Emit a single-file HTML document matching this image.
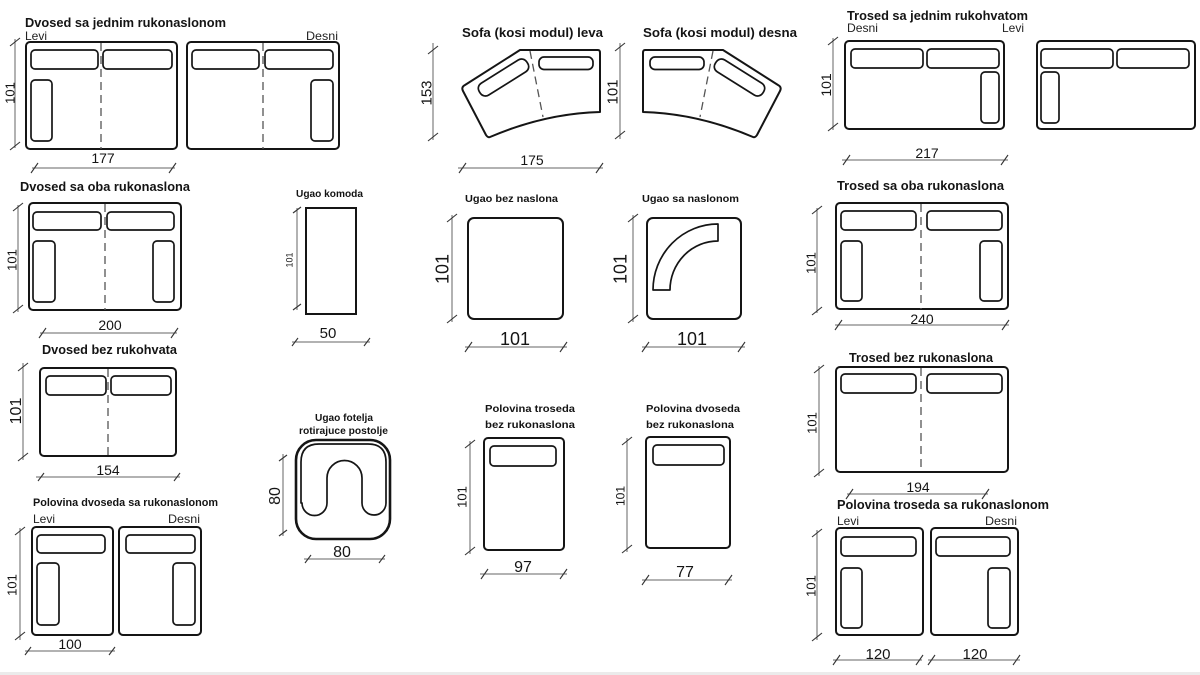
<!DOCTYPE html>
<html><head><meta charset="utf-8"><style>
html,body{margin:0;padding:0;background:#fff;}
svg{display:block;}
.t{font-family:"Liberation Sans",sans-serif;font-weight:bold;fill:#141414;}
.l{font-family:"Liberation Sans",sans-serif;fill:#222;font-size:12px;}
.n{font-family:"Liberation Sans",sans-serif;fill:#151515;text-anchor:middle;}
.b{fill:none;stroke:#151515;stroke-width:2;}
.c{fill:none;stroke:#151515;stroke-width:1.7;}
.d{stroke:#555;stroke-width:1.3;stroke-dasharray:8 5;fill:none;}
.dl{stroke:#666;stroke-width:1;fill:none;}
.tk{stroke:#333;stroke-width:1.1;}
</style></head><body>
<svg width="1200" height="675" viewBox="0 0 1200 675" xmlns="http://www.w3.org/2000/svg">
<rect x="0" y="0" width="1200" height="675" fill="#fff"/>
<rect x="0" y="672" width="1200" height="3" fill="#ebebeb"/>

<!-- 1 Dvosed sa jednim rukonaslonom -->
<text class="t" x="25" y="27" font-size="13" textLength="201" lengthAdjust="spacingAndGlyphs">Dvosed sa jednim rukonaslonom</text>
<text class="l" x="25" y="40" textLength="22" lengthAdjust="spacingAndGlyphs">Levi</text>
<text class="l" x="306" y="40" textLength="32" lengthAdjust="spacingAndGlyphs">Desni</text>
<rect class="b" x="26" y="42" width="151" height="107" rx="4"/>
<rect class="c" x="31" y="50" width="67" height="19" rx="4"/>
<rect class="c" x="103" y="50" width="69" height="19" rx="4"/>
<rect class="c" x="31" y="80" width="21" height="61" rx="4"/>
<line class="d" x1="101" y1="43" x2="101" y2="149"/>
<rect class="b" x="187" y="42" width="152" height="107" rx="4"/>
<rect class="c" x="192" y="50" width="67" height="19" rx="4"/>
<rect class="c" x="265" y="50" width="68" height="19" rx="4"/>
<rect class="c" x="311" y="80" width="22" height="61" rx="4"/>
<line class="d" x1="263" y1="43" x2="263" y2="149"/>
<line class="dl" x1="15" y1="39" x2="15" y2="148"/>
<line class="tk" x1="10" y1="46" x2="20" y2="38"/><line class="tk" x1="10" y1="150" x2="20" y2="142"/>
<text class="n" font-size="13" transform="translate(10,93) rotate(-90)" dy="0.36em">101</text>
<line class="dl" x1="32" y1="168" x2="175" y2="168"/>
<line class="tk" x1="31" y1="173" x2="38" y2="163"/><line class="tk" x1="169" y1="173" x2="176" y2="163"/>
<text class="n" x="103" y="163" font-size="14">177</text>

<!-- Sofa kosi modul -->
<text class="t" x="462" y="37" font-size="13" textLength="141" lengthAdjust="spacingAndGlyphs">Sofa (kosi modul) leva</text>
<text class="t" x="643" y="37" font-size="13" textLength="154" lengthAdjust="spacingAndGlyphs">Sofa (kosi modul) desna</text>
<g id="sofaL">
<path class="b" stroke-linejoin="round" d="M520,50 L598,50 Q600,50 600,53 L600,112 Q545,113.5 490,137 Q488,138 486,135 L463,91 Q461,87 465,85 L520,50 Z"/>
<line class="d" x1="530" y1="51" x2="543" y2="117"/>
<rect class="c" x="-28" y="-7" width="56" height="14" rx="6" transform="translate(503.5,77.5) rotate(-32)"/>
<rect class="c" x="539" y="57" width="54" height="12.5" rx="5"/>
</g>
<g transform="translate(1243,0) scale(-1,1)">
<path class="b" stroke-linejoin="round" d="M520,50 L598,50 Q600,50 600,53 L600,112 Q545,113.5 490,137 Q488,138 486,135 L463,91 Q461,87 465,85 L520,50 Z"/>
<line class="d" x1="530" y1="51" x2="543" y2="117"/>
<rect class="c" x="-28" y="-7" width="56" height="14" rx="6" transform="translate(503.5,77.5) rotate(-32)"/>
<rect class="c" x="539" y="57" width="54" height="12.5" rx="5"/>
</g>
<line class="dl" x1="433" y1="43" x2="433" y2="140"/>
<line class="tk" x1="428" y1="54" x2="438" y2="46"/><line class="tk" x1="428" y1="141" x2="438" y2="133"/>
<text class="n" font-size="15" transform="translate(426,93) rotate(-90)" dy="0.36em">153</text>
<line class="dl" x1="620" y1="43" x2="620" y2="139"/>
<line class="tk" x1="615" y1="51" x2="625" y2="43"/><line class="tk" x1="615" y1="139" x2="625" y2="131"/>
<text class="n" font-size="15" transform="translate(612,92) rotate(-90)" dy="0.36em">101</text>
<line class="dl" x1="458" y1="168" x2="603" y2="168"/>
<line class="tk" x1="459" y1="173" x2="466" y2="163"/><line class="tk" x1="596" y1="173" x2="603" y2="163"/>
<text class="n" x="532" y="165" font-size="14">175</text>

<!-- Trosed sa jednim rukohvatom -->
<text class="t" x="847" y="20" font-size="13" textLength="181" lengthAdjust="spacingAndGlyphs">Trosed sa jednim rukohvatom</text>
<text class="l" x="847" y="32" textLength="31" lengthAdjust="spacingAndGlyphs">Desni</text>
<text class="l" x="1002" y="32" textLength="22" lengthAdjust="spacingAndGlyphs">Levi</text>
<rect class="b" x="845" y="41" width="159" height="88" rx="4"/>
<rect class="c" x="851" y="49" width="72" height="19" rx="4"/>
<rect class="c" x="927" y="49" width="72" height="19" rx="4"/>
<rect class="c" x="981" y="72" width="18" height="51" rx="4"/>
<rect class="b" x="1037" y="41" width="158" height="88" rx="4"/>
<rect class="c" x="1041" y="49" width="72" height="19" rx="4"/>
<rect class="c" x="1117" y="49" width="72" height="19" rx="4"/>
<rect class="c" x="1041" y="72" width="18" height="51" rx="4"/>
<line class="dl" x1="833" y1="38" x2="833" y2="130"/>
<line class="tk" x1="828" y1="45" x2="838" y2="37"/><line class="tk" x1="828" y1="131" x2="838" y2="123"/>
<text class="n" font-size="14" transform="translate(826,85) rotate(-90)" dy="0.36em">101</text>
<line class="dl" x1="842" y1="160" x2="1008" y2="160"/>
<line class="tk" x1="843" y1="165" x2="850" y2="155"/><line class="tk" x1="1001" y1="165" x2="1008" y2="155"/>
<text class="n" x="927" y="158" font-size="14">217</text>

<!-- Dvosed sa oba rukonaslona -->
<text class="t" x="20" y="191" font-size="13" textLength="170" lengthAdjust="spacingAndGlyphs">Dvosed sa oba rukonaslona</text>
<rect class="b" x="29" y="203" width="152" height="107" rx="4"/>
<rect class="c" x="33" y="212" width="68" height="18" rx="4"/>
<rect class="c" x="107" y="212" width="67" height="18" rx="4"/>
<rect class="c" x="33" y="241" width="22" height="61" rx="4"/>
<rect class="c" x="153" y="241" width="21" height="61" rx="4"/>
<line class="d" x1="105" y1="204" x2="105" y2="310"/>
<line class="dl" x1="18" y1="205" x2="18" y2="312"/>
<line class="tk" x1="13" y1="211" x2="23" y2="203"/><line class="tk" x1="13" y1="313" x2="23" y2="305"/>
<text class="n" font-size="13" transform="translate(12,260) rotate(-90)" dy="0.36em">101</text>
<line class="dl" x1="40" y1="333" x2="177" y2="333"/>
<line class="tk" x1="39" y1="338" x2="46" y2="328"/><line class="tk" x1="171" y1="338" x2="178" y2="328"/>
<text class="n" x="110" y="330" font-size="14">200</text>

<!-- Ugao komoda -->
<text class="t" x="296" y="197" font-size="10" textLength="67" lengthAdjust="spacingAndGlyphs">Ugao komoda</text>
<rect class="b" x="306" y="208" width="50" height="106"/>
<line class="dl" x1="297" y1="208" x2="297" y2="310"/>
<line class="tk" x1="293" y1="213" x2="301" y2="207"/><line class="tk" x1="293" y1="310" x2="301" y2="304"/>
<text class="n" font-size="9" transform="translate(289,260) rotate(-90)" dy="0.36em">101</text>
<line class="dl" x1="292" y1="342" x2="370" y2="342"/>
<line class="tk" x1="292" y1="346" x2="298" y2="338"/><line class="tk" x1="364" y1="346" x2="370" y2="338"/>
<text class="n" x="328" y="338" font-size="15">50</text>

<!-- Ugao bez naslona -->
<text class="t" x="465" y="202" font-size="10.5" textLength="93" lengthAdjust="spacingAndGlyphs">Ugao bez naslona</text>
<rect class="b" x="468" y="218" width="95" height="101" rx="6"/>
<line class="dl" x1="452" y1="215" x2="452" y2="322"/>
<line class="tk" x1="447" y1="222" x2="457" y2="214"/><line class="tk" x1="447" y1="323" x2="457" y2="315"/>
<text class="n" font-size="18" transform="translate(442,269) rotate(-90)" dy="0.36em">101</text>
<line class="dl" x1="465" y1="347" x2="567" y2="347"/>
<line class="tk" x1="465" y1="352" x2="472" y2="342"/><line class="tk" x1="560" y1="352" x2="567" y2="342"/>
<text class="n" x="515" y="345" font-size="18">101</text>

<!-- Ugao sa naslonom -->
<text class="t" x="642" y="202" font-size="10.5" textLength="97" lengthAdjust="spacingAndGlyphs">Ugao sa naslonom</text>
<rect class="b" x="647" y="218" width="94" height="101" rx="6"/>
<path class="c" stroke-linejoin="round" d="M653,290 A65,66 0 0 1 718,224 L718,241 A48,49 0 0 0 670,290 Z"/>
<line class="dl" x1="633" y1="215" x2="633" y2="322"/>
<line class="tk" x1="628" y1="222" x2="638" y2="214"/><line class="tk" x1="628" y1="323" x2="638" y2="315"/>
<text class="n" font-size="18" transform="translate(620,269) rotate(-90)" dy="0.36em">101</text>
<line class="dl" x1="642" y1="347" x2="745" y2="347"/>
<line class="tk" x1="642" y1="352" x2="649" y2="342"/><line class="tk" x1="738" y1="352" x2="745" y2="342"/>
<text class="n" x="692" y="345" font-size="18">101</text>

<!-- Trosed sa oba rukonaslona -->
<text class="t" x="837" y="190" font-size="13" textLength="167" lengthAdjust="spacingAndGlyphs">Trosed sa oba rukonaslona</text>
<rect class="b" x="836" y="203" width="172" height="106" rx="4"/>
<rect class="c" x="841" y="211" width="75" height="19" rx="4"/>
<rect class="c" x="927" y="211" width="75" height="19" rx="4"/>
<rect class="c" x="841" y="241" width="21" height="60" rx="4"/>
<rect class="c" x="980" y="241" width="22" height="60" rx="4"/>
<line class="d" x1="921" y1="204" x2="921" y2="309"/>
<line class="dl" x1="817" y1="208" x2="817" y2="313"/>
<line class="tk" x1="812" y1="214" x2="822" y2="206"/><line class="tk" x1="812" y1="315" x2="822" y2="307"/>
<text class="n" font-size="13" transform="translate(811,263) rotate(-90)" dy="0.36em">101</text>
<line class="dl" x1="835" y1="325" x2="1009" y2="325"/>
<line class="tk" x1="835" y1="330" x2="842" y2="320"/><line class="tk" x1="1002" y1="330" x2="1009" y2="320"/>
<text class="n" x="922" y="324" font-size="14">240</text>

<!-- Dvosed bez rukohvata -->
<text class="t" x="42" y="354" font-size="13" textLength="135" lengthAdjust="spacingAndGlyphs">Dvosed bez rukohvata</text>
<rect class="b" x="40" y="368" width="136" height="88" rx="4"/>
<rect class="c" x="46" y="376" width="60" height="19" rx="4"/>
<rect class="c" x="111" y="376" width="60" height="19" rx="4"/>
<line class="d" x1="108" y1="369" x2="108" y2="456"/>
<line class="dl" x1="23" y1="363" x2="23" y2="460"/>
<line class="tk" x1="18" y1="371" x2="28" y2="363"/><line class="tk" x1="18" y1="461" x2="28" y2="453"/>
<text class="n" font-size="16" transform="translate(15,411) rotate(-90)" dy="0.36em">101</text>
<line class="dl" x1="36" y1="477" x2="180" y2="477"/>
<line class="tk" x1="38" y1="481" x2="44" y2="473"/><line class="tk" x1="174" y1="481" x2="180" y2="473"/>
<text class="n" x="108" y="475" font-size="14">154</text>

<!-- Ugao fotelja -->
<text class="t" x="315" y="421" font-size="10.5" textLength="58" lengthAdjust="spacingAndGlyphs">Ugao fotelja</text>
<text class="t" x="299" y="434" font-size="10.5" textLength="89" lengthAdjust="spacingAndGlyphs">rotirajuce postolje</text>
<rect x="296" y="440" width="94" height="99" rx="20" fill="none" stroke="#151515" stroke-width="2.6"/>
<path class="c" stroke-linejoin="round" d="M301,503 L301,462 Q301,444 319,444 L368,444 Q386,444 386,462 L386,503 A12,12 0 0 1 362,503 L362,478 A17.5,17.5 0 0 0 327,478 L327,503 A12.5,12.5 0 0 1 302,503 Z"/>
<line class="dl" x1="283" y1="454" x2="283" y2="536"/>
<line class="tk" x1="279" y1="461" x2="287" y2="455"/><line class="tk" x1="279" y1="536" x2="287" y2="530"/>
<text class="n" font-size="16" transform="translate(274,496) rotate(-90)" dy="0.36em">80</text>
<line class="dl" x1="304" y1="559" x2="385" y2="559"/>
<line class="tk" x1="305" y1="563" x2="311" y2="555"/><line class="tk" x1="379" y1="563" x2="385" y2="555"/>
<text class="n" x="342" y="557" font-size="16">80</text>

<!-- Polovina dvoseda sa rukonaslonom -->
<text class="t" x="33" y="506" font-size="11" textLength="185" lengthAdjust="spacingAndGlyphs">Polovina dvoseda sa rukonaslonom</text>
<text class="l" x="33" y="523" textLength="22" lengthAdjust="spacingAndGlyphs">Levi</text>
<text class="l" x="168" y="523" textLength="32" lengthAdjust="spacingAndGlyphs">Desni</text>
<rect class="b" x="32" y="527" width="81" height="108" rx="4"/>
<rect class="c" x="37" y="535" width="68" height="18" rx="4"/>
<rect class="c" x="37" y="563" width="22" height="62" rx="4"/>
<rect class="b" x="119" y="527" width="82" height="108" rx="4"/>
<rect class="c" x="126" y="535" width="69" height="18" rx="4"/>
<rect class="c" x="173" y="563" width="22" height="62" rx="4"/>
<line class="dl" x1="20" y1="528" x2="20" y2="640"/>
<line class="tk" x1="15" y1="535" x2="25" y2="527"/><line class="tk" x1="15" y1="640" x2="25" y2="632"/>
<text class="n" font-size="13" transform="translate(12,585) rotate(-90)" dy="0.36em">101</text>
<line class="dl" x1="25" y1="651" x2="115" y2="651"/>
<line class="tk" x1="25" y1="655" x2="31" y2="647"/><line class="tk" x1="109" y1="655" x2="115" y2="647"/>
<text class="n" x="70" y="649" font-size="14">100</text>

<!-- Polovina troseda bez rukonaslona -->
<text class="t" x="485" y="412" font-size="10.5" textLength="90" lengthAdjust="spacingAndGlyphs">Polovina troseda</text>
<text class="t" x="485" y="428" font-size="10.5" textLength="90" lengthAdjust="spacingAndGlyphs">bez rukonaslona</text>
<rect class="b" x="484" y="438" width="80" height="112" rx="4"/>
<rect class="c" x="490" y="446" width="66" height="20" rx="4"/>
<line class="dl" x1="470" y1="441" x2="470" y2="554"/>
<line class="tk" x1="465" y1="448" x2="475" y2="440"/><line class="tk" x1="465" y1="555" x2="475" y2="547"/>
<text class="n" font-size="13" transform="translate(462,497) rotate(-90)" dy="0.36em">101</text>
<line class="dl" x1="480" y1="574" x2="567" y2="574"/>
<line class="tk" x1="481" y1="579" x2="488" y2="569"/><line class="tk" x1="560" y1="579" x2="567" y2="569"/>
<text class="n" x="523" y="572" font-size="16">97</text>

<!-- Polovina dvoseda bez rukonaslona -->
<text class="t" x="646" y="412" font-size="10.5" textLength="94" lengthAdjust="spacingAndGlyphs">Polovina dvoseda</text>
<text class="t" x="646" y="428" font-size="10.5" textLength="88" lengthAdjust="spacingAndGlyphs">bez rukonaslona</text>
<rect class="b" x="646" y="437" width="84" height="111" rx="4"/>
<rect class="c" x="653" y="445" width="71" height="20" rx="4"/>
<line class="dl" x1="627" y1="438" x2="627" y2="552"/>
<line class="tk" x1="622" y1="445" x2="632" y2="437"/><line class="tk" x1="622" y1="553" x2="632" y2="545"/>
<text class="n" font-size="12" transform="translate(620,496) rotate(-90)" dy="0.36em">101</text>
<line class="dl" x1="642" y1="580" x2="732" y2="580"/>
<line class="tk" x1="642" y1="585" x2="649" y2="575"/><line class="tk" x1="725" y1="585" x2="732" y2="575"/>
<text class="n" x="685" y="577" font-size="16">77</text>

<!-- Trosed bez rukonaslona -->
<text class="t" x="849" y="362" font-size="13" textLength="144" lengthAdjust="spacingAndGlyphs">Trosed bez rukonaslona</text>
<rect class="b" x="836" y="367" width="172" height="105" rx="4"/>
<rect class="c" x="841" y="374" width="75" height="19" rx="4"/>
<rect class="c" x="927" y="374" width="75" height="19" rx="4"/>
<line class="d" x1="921" y1="368" x2="921" y2="472"/>
<line class="dl" x1="819" y1="366" x2="819" y2="476"/>
<line class="tk" x1="814" y1="373" x2="824" y2="365"/><line class="tk" x1="814" y1="477" x2="824" y2="469"/>
<text class="n" font-size="13" transform="translate(812,423) rotate(-90)" dy="0.36em">101</text>
<line class="dl" x1="847" y1="494" x2="988" y2="494"/>
<line class="tk" x1="846" y1="499" x2="853" y2="489"/><line class="tk" x1="982" y1="499" x2="989" y2="489"/>
<text class="n" x="918" y="492" font-size="14">194</text>

<!-- Polovina troseda sa rukonaslonom -->
<text class="t" x="837" y="509" font-size="13" textLength="212" lengthAdjust="spacingAndGlyphs">Polovina troseda sa rukonaslonom</text>
<text class="l" x="837" y="525" textLength="22" lengthAdjust="spacingAndGlyphs">Levi</text>
<text class="l" x="985" y="525" textLength="32" lengthAdjust="spacingAndGlyphs">Desni</text>
<rect class="b" x="836" y="528" width="87" height="107" rx="4"/>
<rect class="c" x="841" y="537" width="75" height="19" rx="4"/>
<rect class="c" x="841" y="568" width="21" height="60" rx="4"/>
<rect class="b" x="931" y="528" width="87" height="107" rx="4"/>
<rect class="c" x="936" y="537" width="74" height="19" rx="4"/>
<rect class="c" x="988" y="568" width="22" height="60" rx="4"/>
<line class="dl" x1="817" y1="530" x2="817" y2="640"/>
<line class="tk" x1="812" y1="537" x2="822" y2="529"/><line class="tk" x1="812" y1="641" x2="822" y2="633"/>
<text class="n" font-size="13" transform="translate(811,586) rotate(-90)" dy="0.36em">101</text>
<line class="dl" x1="833" y1="660" x2="922" y2="660"/>
<line class="tk" x1="833" y1="665" x2="840" y2="655"/><line class="tk" x1="916" y1="665" x2="923" y2="655"/>
<line class="dl" x1="928" y1="660" x2="1020" y2="660"/>
<line class="tk" x1="928" y1="665" x2="935" y2="655"/><line class="tk" x1="1013" y1="665" x2="1020" y2="655"/>
<text class="n" x="878" y="659" font-size="15">120</text>
<text class="n" x="975" y="659" font-size="15">120</text>
</svg>
</body></html>
